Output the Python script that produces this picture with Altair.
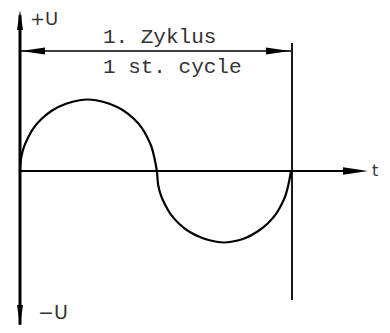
import altair as alt
import pandas as pd

# --- data (t = fraction of cycle, u = relative voltage) ---
wave_t = [0, 0.005, 0.015, 0.03, 0.05, 0.08, 0.12, 0.17, 0.22, 0.25, 0.28, 0.33, 0.38, 0.42, 0.45, 0.47, 0.485, 0.495, 0.505,
          0.51, 0.52, 0.535, 0.555, 0.585, 0.625, 0.675, 0.725, 0.753, 0.78, 0.83, 0.875, 0.915, 0.945, 0.965, 0.98, 0.99, 1.0]
wave_u = [0, 0.2, 0.34, 0.47, 0.6, 0.73, 0.85, 0.94, 0.99, 1, 0.99, 0.94, 0.85, 0.73, 0.6, 0.47, 0.34, 0.2, 0,
          -0.2, -0.34, -0.47, -0.6, -0.73, -0.85, -0.94, -0.99, -1, -0.99, -0.94, -0.85, -0.73, -0.6, -0.47, -0.34, -0.2, 0]

# axis / dimension lines: t, u, t2, u2, stroke width
lines_t = [0.0, 0.0, 0.0, 1.0037]
lines_u = [2.18, 0.0, 1.678, 1.79]
lines_t2 = [0.0, 1.26, 1.0, 1.0037]
lines_u2 = [-2.15, 0.0, 1.678, -1.804]
lines_w = [3.0, 2.0, 1.6, 1.8]

# arrowheads: centre t, u, rotation angle, size
arrow_t = [0.0, 0.0, 1.238, 0.048, 0.952]
arrow_u = [2.112, -2.014, 0.0, 1.678, 1.678]
arrow_angle = [0, 180, 90, 270, 90]
arrow_size = [400, 400, 625, 576, 576]

# labels: cycle caption (monospaced) and axis symbols
caption_text = ["1. Zyklus", "1 st. cycle"]
caption_t = [0.306, 0.306]
caption_u = [1.79, 1.37]

symbol_text = ["+U", "\u2212U", "t"]
symbol_t = [0.0369, 0.0664, 1.2989]
symbol_u = [2.042, -2.07, -0.07]
symbol_size = [18, 19, 16]

X_DOM = [-0.04428, 1.33579]
Y_DOM = [-2.15385, 2.27972]

wave = pd.DataFrame({"t": wave_t, "u": wave_u, "i": range(len(wave_t))})
lines = pd.DataFrame({"t": lines_t, "u": lines_u, "t2": lines_t2, "u2": lines_u2, "w": lines_w})
arrows = pd.DataFrame({"t": arrow_t, "u": arrow_u, "a": arrow_angle, "s": arrow_size})
captions = pd.DataFrame({"text": caption_text, "t": caption_t, "u": caption_u})
symbols = pd.DataFrame({"text": symbol_text, "t": symbol_t, "u": symbol_u, "fs": symbol_size})

xs = alt.Scale(domain=X_DOM, nice=False, zero=False)
ys = alt.Scale(domain=Y_DOM, nice=False, zero=False)
X = alt.X("t:Q", scale=xs, axis=None)
Y = alt.Y("u:Q", scale=ys, axis=None)

wave_layer = alt.Chart(wave).mark_line(color="black", strokeWidth=2.2, interpolate="catmull-rom").encode(
    x=X, y=Y, order="i:Q",
)

line_layer = alt.Chart(lines).mark_rule(color="black").encode(
    x=X, y=Y, x2="t2:Q", y2="u2:Q",
    strokeWidth=alt.StrokeWidth("w:Q", scale=None, legend=None),
)

arrow_layer = alt.Chart(arrows).mark_point(
    shape="M0,-1L0.3,1L-0.3,1Z", filled=True, color="black", opacity=1, strokeWidth=0
).encode(
    x=X, y=Y,
    angle=alt.Angle("a:Q", scale=None),
    size=alt.Size("s:Q", scale=None, legend=None),
)

caption_layer = alt.Chart(captions).mark_text(
    align="left", baseline="alphabetic", color="#333333", font="Liberation Mono", fontSize=21
).encode(x=X, y=Y, text="text:N")

symbol_layer = alt.Chart(symbols).mark_text(
    align="left", baseline="alphabetic", color="#333333", font="DejaVu Sans"
).encode(
    x=X, y=Y, text="text:N",
    size=alt.Size("fs:Q", scale=None, legend=None),
)

chart = alt.layer(line_layer, wave_layer, arrow_layer, caption_layer, symbol_layer).properties(
    width=374, height=317, autosize=alt.AutoSizeParams(type="none"), padding=0
).configure_view(stroke=None)

chart.save("out.html", embed_options={"renderer": "svg", "actions": False})
